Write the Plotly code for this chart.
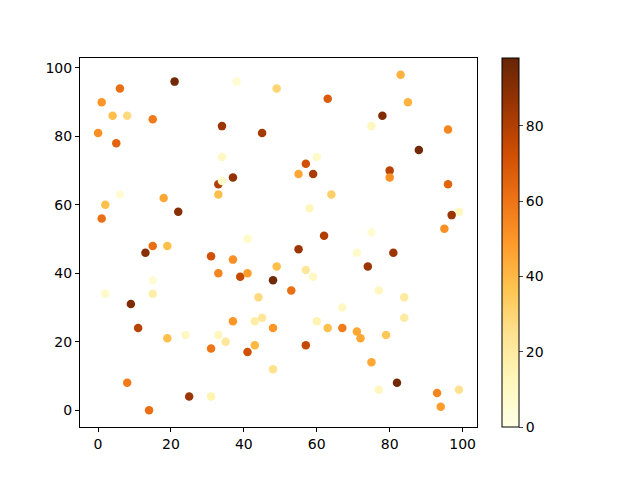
import plotly.graph_objects as go

# scatter data (x, y, colour value)
x_vals = [21, 38, 49, 6, 1, 4, 8, 15, 34, 45, 0, 5, 34, 37, 33, 34, 33, 6, 2, 18,
          22, 1, 41, 83, 63, 85, 78, 75, 96, 88, 60, 57, 55, 59, 80, 80, 64, 96,
          58, 99, 97, 95, 62, 75, 15, 13, 19, 31, 37, 33, 39, 41, 49, 48, 15, 15,
          2, 9, 44, 11, 19, 24, 33, 35, 37, 43, 45, 48, 31, 43, 41, 48, 8, 25,
          31, 14, 55, 71, 81, 74, 57, 59, 53, 77, 84, 67, 84, 60, 63, 67, 71, 72,
          79, 57, 75, 82, 77, 93, 99, 94]
y_vals = [96, 96, 94, 94, 90, 86, 86, 85, 83, 81, 81, 78, 74, 68, 66, 67, 63, 63, 60, 62,
          58, 56, 50, 98, 91, 90, 86, 83, 82, 76, 74, 72, 69, 69, 70, 68, 63, 66,
          59, 58, 57, 53, 51, 52, 48, 46, 48, 45, 44, 40, 39, 40, 42, 38, 38, 34,
          34, 31, 33, 24, 21, 22, 22, 20, 26, 26, 27, 24, 18, 19, 17, 12, 8, 4,
          4, 0, 47, 46, 46, 42, 41, 39, 35, 35, 33, 30, 27, 26, 24, 24, 23, 21,
          22, 19, 14, 8, 6, 5, 6, 1]
c_vals = [95, 5, 30, 62, 50, 38, 28, 58, 85, 83, 52, 65, 10, 87, 80, 8, 38, 5, 38, 45,
          90, 62, 8, 42, 68, 42, 92, 12, 55, 95, 8, 72, 45, 82, 78, 52, 32, 65,
          12, 12, 85, 52, 80, 5, 62, 90, 38, 72, 52, 55, 75, 48, 38, 95, 5, 18,
          8, 92, 28, 78, 38, 10, 12, 22, 50, 18, 22, 50, 60, 40, 72, 25, 58, 85,
          15, 62, 85, 8, 85, 85, 22, 10, 62, 12, 20, 10, 20, 15, 38, 58, 45, 45,
          35, 75, 45, 95, 12, 55, 25, 48]

fig = go.Figure()
fig.add_trace(go.Scatter(
    x=x_vals, y=y_vals, mode='markers',
    marker=dict(
        size=8.5, color=c_vals, colorscale='YlOrBr', cmin=0, cmax=98,
        line=dict(width=0),
        colorbar=dict(
            x=1.038, xanchor='left', xpad=10, y=0, yanchor='bottom', ypad=0,
            len=1, lenmode='fraction', thickness=17,
            outlinewidth=1, outlinecolor='black',
            tickvals=[0, 20, 40, 60, 80], ticks='outside', ticklen=4,
            tickfont=dict(size=14, color='black'),
        ),
    ),
))

axis_style = dict(showline=True, linecolor='black', linewidth=1, mirror=True,
                  ticks='outside', ticklen=4, tickcolor='black', showgrid=False,
                  zeroline=False, tickfont=dict(size=14, color='black'))
fig.update_xaxes(range=[-4.95, 103.95], tickvals=[0, 20, 40, 60, 80, 100], **axis_style)
fig.update_yaxes(range=[-4.9, 102.9], tickvals=[0, 20, 40, 60, 80, 100], **axis_style)

# the page adds an 8px body margin, so the margins are shifted to compensate
fig.update_layout(
    width=640, height=480, showlegend=False,
    margin=dict(l=72, r=171, t=50, b=61),
    paper_bgcolor='white', plot_bgcolor='white',
    font=dict(family='DejaVu Sans', size=14, color='black'),
)

fig.write_html("out.html")
